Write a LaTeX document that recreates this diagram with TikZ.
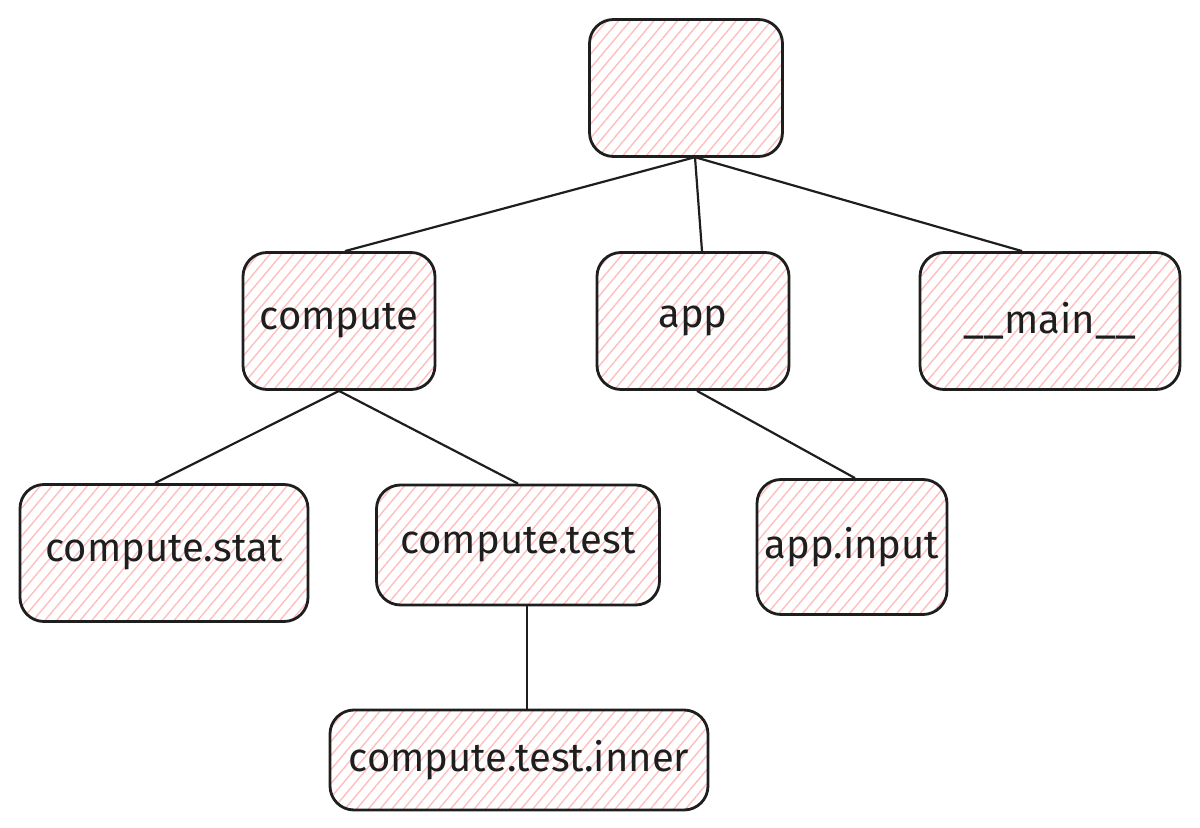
\documentclass[tikz,border=0pt]{standalone}
\usepackage{fontspec}
\setmainfont{Fira Sans}
\usetikzlibrary{patterns.meta}
\definecolor{inkline}{RGB}{30,30,30}
\definecolor{hatchpink}{RGB}{255,190,190}
\tikzstyle{modbox}=[draw=inkline, line width=1.4pt, rounded corners=12pt, inner sep=0pt,
    pattern={Lines[angle=50,distance=4.5pt,line width=0.7pt]}, pattern color=hatchpink,
    minimum height=68.5pt, font=\fontsize{20}{24}\selectfont, text=inkline]
\tikzstyle{edge}=[draw=inkline, line width=1.1pt]

\begin{document}
\begin{tikzpicture}[x=0.5pt, y=-0.5pt]
            \useasboundingbox (0, 0) rectangle (1200, 828);

            \node[modbox, minimum width=96.5pt] (root) at (686, 88) {};

            \node[modbox, minimum width=96pt] (compute) at (339, 321) {compute};
            \node[modbox, minimum width=96pt] (app) at (693, 321) {app};
            \node[modbox, minimum width=130pt] (main) at (1050, 321) {\_\_main\_\_};

            \node[modbox, minimum width=144pt] (stat) at (164, 553) {compute.stat};
            \node[modbox, minimum width=141.5pt, minimum height=60pt] (test) at (518, 545) {compute.test};
            \node[modbox, minimum width=95pt, minimum height=67.5pt] (input) at (852, 547) {app.input};

            \node[modbox, minimum width=189pt, minimum height=50pt] (inner) at (519, 760) {compute.test.inner};

            \draw[edge] ([xshift=4.5pt]root.south) -- ([xshift=3pt]compute.north);
            \draw[edge] ([xshift=4.5pt]root.south) -- ([xshift=4.5pt]app.north);
            \draw[edge] ([xshift=4.5pt]root.south) -- ([xshift=-14pt]main.north);

            \draw[edge] (compute.south) -- ([xshift=-4.5pt]stat.north);
            \draw[edge] (compute.south) -- (test.north);
            \draw[edge] ([xshift=2pt]app.south) -- ([xshift=1.5pt]input.north);

            \draw[edge] ([xshift=4.5pt]test.south) -- ([xshift=4pt]inner.north);
        \end{tikzpicture}
\end{document}
